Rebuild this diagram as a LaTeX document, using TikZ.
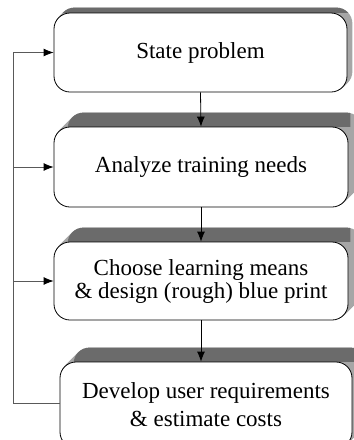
\documentclass[tikz,border=0pt]{standalone}
\usepackage{fontspec}
\setmainfont{Liberation Serif}
\usetikzlibrary{arrows.meta,backgrounds}

\tikzset{
  stage/.style={draw=black, line width=0.8pt, fill=white, rounded corners=16pt,
    align=center, font=\fontsize{23}{23}\selectfont},
  side/.style={fill=black!35, rounded corners=16pt},
  topface/.style={fill=black!58, rounded corners=16pt},
  flow/.style={line width=0.8pt, arrows={-{Latex[length=10pt,width=8pt]}}},
  fb/.style={line width=0.8pt, black!65, arrows={-{Latex[length=10pt,width=8pt,color=black]}}}
}

\begin{document}
\begin{tikzpicture}[x=1pt, y=-1pt]

    \useasboundingbox (0,0) rectangle (354,440);
    \clip (0,0) rectangle (354,440);

    % --- Etapas ---
    \node[stage, minimum width=293pt, minimum height=79pt] (problem) at (200.5,52.5) {State problem};
    \node[stage, minimum width=294pt, minimum height=80pt] (needs) at (201,167) {Analyze training needs};
    \node[stage, minimum width=294pt, minimum height=78pt] (means) at (201,281)
      {Choose learning means\\ \& design (rough) blue print};
    \node[stage, minimum width=292pt, minimum height=86pt] (develop) at (206,405)
      {Develop user requirements\\[5pt] \& estimate costs};

    % --- Sombras (extrusion) ---
    \begin{scope}[on background layer]
      \foreach \n/\d in {problem/5, needs/14, means/14, develop/14}{
        \foreach \k in {1,...,\d}
          \fill[side] ([shift={(\k,-\k)}]\n.south west) rectangle ([shift={(\k,-\k)}]\n.north east);
        \begin{scope}
          \clip ([shift={(-30,-30)}]\n.north west) rectangle ([xshift=2]\n.north east);
          \fill[topface] ([shift={(\d,-\d)}]\n.south west) rectangle ([shift={(\d,-\d)}]\n.north east);
        \end{scope}
      }
    \end{scope}

    % --- Flujo principal ---
    \draw[flow] (problem.south) -- (needs.north);
    \draw[flow] (needs.south) -- (means.north);
    \draw[flow] (means.south) -- (means.south |- develop.north);

    % --- Retroalimentacion ---
    \coordinate (back) at (13,403);
    \draw[fb] (develop.west |- back) -- (back) |- (problem.west);
    \draw[fb] (back |- needs.west) -- (needs.west);
    \draw[fb] (back |- means.west) -- (means.west);

\end{tikzpicture}
\end{document}
